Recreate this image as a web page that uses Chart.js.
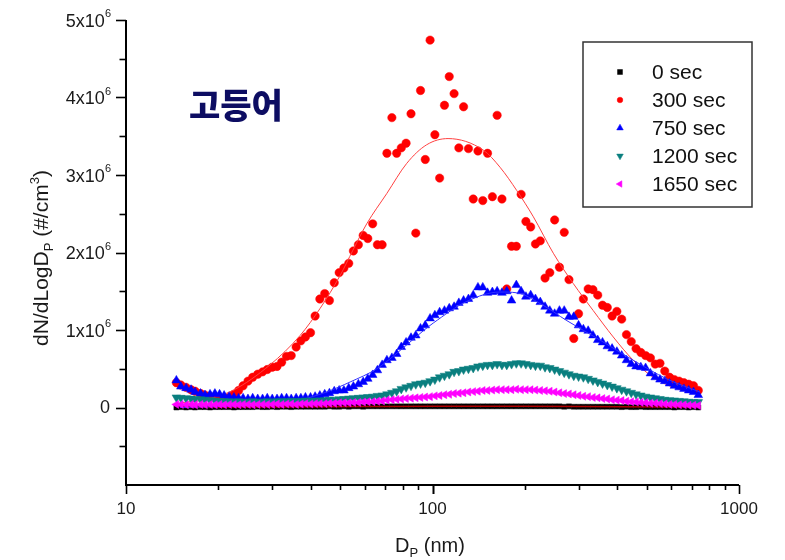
<!DOCTYPE html>
<html>
<head>
<meta charset="utf-8">
<script src="https://cdn.jsdelivr.net/npm/chart.js@4.4.1/dist/chart.umd.min.js"></script>
<style>
  html, body { margin: 0; padding: 0; background: #fff; }
  #wrap { width: 785px; height: 560px; position: relative; }
</style>
</head>
<body>
<div id="wrap"><canvas id="chart-psd"></canvas></div>
<script>
// DATA //
// particle diameter (nm), SMPS channel midpoints
const sizes = [
  14.6, 15.1, 15.7, 16.3, 16.8, 17.5, 18.1, 18.8, 19.5, 20.2,
  20.9, 21.7, 22.5, 23.3, 24.1, 25.0, 25.9, 26.9, 27.9, 28.9,
  30.0, 31.1, 32.2, 33.4, 34.6, 35.9, 37.2, 38.5, 40.0, 41.4,
  42.9, 44.5, 46.1, 47.8, 49.6, 51.4, 53.3, 55.2, 57.3, 59.4,
  61.5, 63.8, 66.1, 68.5, 71.0, 73.7, 76.4, 79.1, 82.0, 85.1,
  88.2, 91.4, 94.7, 98.2, 101.8, 105.5, 109.4, 113.4, 117.6, 121.9,
  126.3, 131.0, 135.8, 140.7, 145.9, 151.2, 156.8, 162.5, 168.5, 174.7,
  181.1, 187.7, 194.6, 201.7, 209.1, 216.7, 224.7, 232.9, 241.4, 250.3,
  259.5, 269.0, 278.8, 289.0, 299.6, 310.6, 322.0, 333.8, 346.0, 358.7,
  371.8, 385.4, 399.5, 414.2, 429.4, 445.1, 461.4, 478.3, 495.8, 514.0,
  532.8, 552.3, 572.5, 593.5, 615.3, 637.8, 661.2, 685.4, 710.5, 736.5
]

// dN/dLogDp, in 10^6 #/cm3
const sec0 = [
  0.0, 0.005, 0.0, 0.005, 0.0, 0.005, 0.005, 0.0, 0.005, 0.005,
  0.005, 0.005, 0.0, 0.005, 0.005, 0.005, 0.005, 0.01, 0.005, 0.005,
  0.01, 0.005, 0.01, 0.01, 0.005, 0.01, 0.01, 0.01, 0.01, 0.01,
  0.01, 0.01, 0.015, 0.01, 0.01, 0.015, 0.01, 0.015, 0.015, 0.01,
  0.015, 0.015, 0.015, 0.015, 0.015, 0.015, 0.015, 0.015, 0.015, 0.015,
  0.015, 0.015, 0.015, 0.015, 0.015, 0.015, 0.015, 0.015, 0.015, 0.015,
  0.015, 0.015, 0.015, 0.015, 0.015, 0.015, 0.015, 0.015, 0.015, 0.015,
  0.015, 0.015, 0.015, 0.015, 0.015, 0.015, 0.015, 0.015, 0.015, 0.015,
  0.015, 0.01, 0.015, 0.01, 0.01, 0.01, 0.01, 0.01, 0.01, 0.01,
  0.01, 0.01, 0.01, 0.005, 0.01, 0.005, 0.005, 0.01, 0.005, 0.005,
  0.005, 0.005, 0.005, 0.005, 0.0, 0.005, 0.005, 0.0, 0.005, 0.0
]
const sec300 = [
  0.32, 0.29, 0.26, 0.23, 0.21, 0.18, 0.16, 0.14, 0.13, 0.12,
  0.12, 0.13, 0.17, 0.22, 0.28, 0.34, 0.39, 0.43, 0.46, 0.49,
  0.52, 0.53, 0.585, 0.66, 0.67, 0.78, 0.86, 0.91, 0.965, 1.18,
  1.40, 1.47, 1.38, 1.61, 1.74, 1.80, 1.86, 2.02, 2.10, 2.22,
  2.18, 2.37, 2.10, 2.10, 3.28, 3.74, 3.28, 3.35, 3.41, 3.79,
  2.25, 4.09, 3.20, 4.74, 3.52, 2.96, 3.90, 4.27, 4.05, 3.35,
  3.88, 3.34, 2.69, 3.31, 2.67, 3.28, 2.72, 3.77, 2.69, 1.53,
  2.08, 2.08, 2.75, 2.40, 2.33, 2.11, 2.15, 1.67, 1.74, 2.42,
  1.81, 2.26, 1.65, 0.89, 1.21, 1.40, 1.53, 1.52, 1.45, 1.32,
  1.29, 1.18, 1.24, 1.14, 0.94, 0.85, 0.76, 0.71, 0.67, 0.64,
  0.56, 0.57, 0.47, 0.39, 0.36, 0.34, 0.32, 0.30, 0.28, 0.22
]
const sec750 = [
  0.35, 0.27, 0.25, 0.23, 0.20, 0.18, 0.16, 0.17, 0.18, 0.17,
  0.155, 0.14, 0.13, 0.12, 0.12, 0.11, 0.12, 0.11, 0.11, 0.12,
  0.11, 0.11, 0.12, 0.12, 0.11, 0.12, 0.12, 0.13, 0.13, 0.14,
  0.155, 0.17, 0.185, 0.21, 0.22, 0.22, 0.25, 0.27, 0.30, 0.33,
  0.37, 0.42, 0.48, 0.55, 0.61, 0.64, 0.69, 0.78, 0.84, 0.90,
  0.93, 1.02, 1.06, 1.15, 1.19, 1.23, 1.25, 1.28, 1.30, 1.35,
  1.38, 1.40, 1.45, 1.55, 1.55, 1.48, 1.49, 1.50, 1.48, 1.50,
  1.38, 1.58, 1.50, 1.43, 1.45, 1.40, 1.36, 1.30, 1.25, 1.21,
  1.25, 1.25, 1.17, 1.17, 1.06, 1.01, 0.99, 0.93, 0.87, 0.84,
  0.79, 0.76, 0.72, 0.67, 0.61, 0.56, 0.53, 0.52, 0.51, 0.44,
  0.39, 0.36, 0.34, 0.31, 0.28, 0.26, 0.24, 0.22, 0.20, 0.16
]
const sec1200 = [
  0.13, 0.125, 0.12, 0.115, 0.11, 0.105, 0.10, 0.095, 0.09, 0.085,
  0.08, 0.08, 0.075, 0.08, 0.075, 0.075, 0.08, 0.075, 0.075, 0.08,
  0.075, 0.08, 0.08, 0.08, 0.085, 0.08, 0.085, 0.09, 0.085, 0.09,
  0.09, 0.095, 0.10, 0.10, 0.105, 0.11, 0.115, 0.12, 0.125, 0.13,
  0.135, 0.14, 0.15, 0.155, 0.17, 0.19, 0.21, 0.24, 0.26, 0.28,
  0.30, 0.31, 0.32, 0.34, 0.36, 0.39, 0.41, 0.43, 0.46, 0.47,
  0.49, 0.50, 0.51, 0.53, 0.54, 0.55, 0.55, 0.56, 0.55, 0.55,
  0.56, 0.57, 0.57, 0.56, 0.55, 0.54, 0.54, 0.52, 0.51, 0.49,
  0.47, 0.45, 0.43, 0.41, 0.40, 0.39, 0.37, 0.35, 0.33, 0.31,
  0.29, 0.27, 0.25, 0.23, 0.21, 0.19, 0.17, 0.155, 0.14, 0.13,
  0.12, 0.11, 0.10, 0.095, 0.09, 0.085, 0.08, 0.075, 0.07, 0.07
]
const sec1650 = [
  0.04, 0.04, 0.035, 0.04, 0.035, 0.04, 0.035, 0.04, 0.035, 0.04,
  0.035, 0.04, 0.04, 0.035, 0.04, 0.04, 0.035, 0.04, 0.04, 0.04,
  0.04, 0.045, 0.04, 0.045, 0.045, 0.04, 0.045, 0.05, 0.045, 0.05,
  0.05, 0.05, 0.055, 0.055, 0.06, 0.06, 0.06, 0.065, 0.065, 0.07,
  0.075, 0.075, 0.08, 0.085, 0.095, 0.10, 0.105, 0.11, 0.115, 0.12,
  0.125, 0.13, 0.135, 0.14, 0.15, 0.155, 0.165, 0.17, 0.18, 0.185,
  0.19, 0.20, 0.205, 0.21, 0.22, 0.22, 0.225, 0.23, 0.23, 0.23,
  0.23, 0.235, 0.23, 0.23, 0.23, 0.225, 0.22, 0.215, 0.21, 0.20,
  0.19, 0.18, 0.175, 0.165, 0.155, 0.145, 0.14, 0.13, 0.125, 0.115,
  0.11, 0.10, 0.095, 0.09, 0.08, 0.075, 0.07, 0.065, 0.06, 0.055,
  0.055, 0.05, 0.045, 0.04, 0.04, 0.035, 0.035, 0.03, 0.03, 0.025
]

// fitted curves
const fitSizes0 = [15, 30, 60, 100, 200, 400, 750]
const fit0 = [0.005, 0.008, 0.012, 0.015, 0.015, 0.01, 0.006]
const fitSizes300 = [15.0, 18.0, 22.3, 29.5, 37.0, 43.0, 49.9, 55.0, 61.0, 70.9, 82.4, 95.7, 112.4,
  146.6, 166.1, 188.3, 213.4, 247.9, 287.9, 334.6, 388.8, 451.7, 524.8, 610.3, 746]
const fit300 = [0.06, 0.10, 0.22, 0.55, 0.93, 1.28, 1.70, 2.03, 2.37, 2.76, 3.15, 3.39, 3.47,
  3.32, 3.10, 2.80, 2.46, 1.99, 1.60, 1.25, 0.91, 0.61, 0.39, 0.26, 0.17]
const fitSizes750 = [15.0, 25.4, 37.0, 45.1, 53.9, 65.8, 76.5, 93.3, 100.6, 129.5, 166.1, 188.3,
  224.8, 274.6, 352, 451.7, 581, 746]
const fit750 = [0.0, 0.03, 0.10, 0.20, 0.33, 0.50, 0.70, 0.99, 1.09, 1.37, 1.49, 1.48,
  1.34, 1.12, 0.87, 0.61, 0.37, 0.20]

// tick labels
const xTickLabels = [10, 100, 1000]
const yTickLabels = [0, 1, 2, 3, 4, 5]

const seriesNames = ['0 sec', '300 sec', '750 sec', '1200 sec', '1650 sec']

// ESTILO //
const FONT = '"Liberation Sans", Arial, Helvetica, sans-serif'
Chart.defaults.font.family = FONT

const toPoints = (xs, ys) => xs.map((x, i) => ({ x: x, y: ys[i] * 1e6 }))

const markerSets = [
  { color: '#000000', style: 'rect', radius: 3.5, rotation: 0, legendRadius: 3.5 },
  { color: '#ff0000', style: 'circle', radius: 4.2, rotation: 0, legendRadius: 2.8 },
  { color: '#0000ff', style: 'triangle', radius: 5, rotation: 0, legendRadius: 3.8 },
  { color: '#0a7f7f', style: 'triangle', radius: 5, rotation: 180, legendRadius: 3.8 },
  { color: '#ff00ff', style: 'triangle', radius: 4.6, rotation: 270, legendRadius: 3.8 }
]

function scatterSet(i, values, order) {
  const m = markerSets[i]
  return {
    type: 'scatter',
    label: seriesNames[i],
    data: toPoints(sizes, values),
    showLine: false,
    pointStyle: m.style,
    pointRotation: m.rotation,
    pointRadius: m.radius,
    pointBackgroundColor: m.color,
    pointBorderColor: m.color,
    pointBorderWidth: 0.5,
    order: order
  }
}

function fitSet(xs, ys, color, width, order) {
  return {
    type: 'line',
    label: 'fit',
    data: toPoints(xs, ys),
    borderColor: color,
    borderWidth: width,
    pointRadius: 0,
    fill: false,
    cubicInterpolationMode: 'monotone',
    order: order
  }
}

// EIXOS, LEGENDA E TEXTOS //
function drawScript(ctx, base, small, x, y, size, shift, align) {
  ctx.font = size + 'px ' + FONT
  const wb = ctx.measureText(base).width
  const smallSize = Math.round(size * 0.62)
  ctx.font = smallSize + 'px ' + FONT
  const ws = ctx.measureText(small).width
  const x0 = align === 'right' ? x - wb - ws : x
  ctx.textAlign = 'left'
  ctx.font = size + 'px ' + FONT
  ctx.fillText(base, x0, y)
  ctx.font = smallSize + 'px ' + FONT
  ctx.fillText(small, x0 + wb, y + shift)
}

const decorPlugin = {
  id: 'decor',
  afterDraw(chart) {
    const ctx = chart.ctx
    const area = chart.chartArea
    const xs = chart.scales.x
    const ys = chart.scales.y
    ctx.save()
    ctx.strokeStyle = '#000'
    ctx.fillStyle = '#1a1a1a'

    // axis lines
    ctx.lineWidth = 2
    ctx.beginPath()
    ctx.moveTo(area.left, area.top)
    ctx.lineTo(area.left, area.bottom)
    ctx.lineTo(area.right, area.bottom)
    ctx.stroke()

    // y ticks
    ctx.lineWidth = 1.6
    for (let v = -0.5; v <= 5; v += 0.5) {
      const py = Math.round(ys.getPixelForValue(v * 1e6)) + 0.5
      const len = Number.isInteger(v) ? 10 : 6.5
      ctx.beginPath()
      ctx.moveTo(area.left, py)
      ctx.lineTo(area.left - len, py)
      ctx.stroke()
    }
    ctx.textBaseline = 'middle'
    yTickLabels.forEach(v => {
      const py = ys.getPixelForValue(v * 1e6)
      if (v === 0) {
        ctx.font = '18px ' + FONT
        ctx.textAlign = 'right'
        ctx.fillText('0', 110, py + 1)
      } else {
        drawScript(ctx, v + 'x10', '6', 111, py + 2, 18, -8, 'right')
      }
    })

    // x ticks
    for (let d = 10; d < 1000; d *= 10) {
      for (let k = 1; k <= 10; k++) {
        const val = d * k
        if (val > 1000) continue
        const px = Math.round(xs.getPixelForValue(val)) + 0.5
        const len = (k === 1 || k === 10) ? 9 : 5
        ctx.beginPath()
        ctx.moveTo(px, area.bottom)
        ctx.lineTo(px, area.bottom + len)
        ctx.stroke()
      }
    }
    ctx.font = '17px ' + FONT
    ctx.textAlign = 'center'
    xTickLabels.forEach(v => {
      ctx.fillText(String(v), xs.getPixelForValue(v), 509)
    })

    // x title: D_P (nm)
    ctx.textBaseline = 'alphabetic'
    ctx.font = '20px ' + FONT
    const wD = ctx.measureText('D').width
    const wRest = ctx.measureText(' (nm)').width
    ctx.font = '13px ' + FONT
    const wP = ctx.measureText('P').width
    let tx = 430 - (wD + wP + wRest) / 2
    ctx.textAlign = 'left'
    ctx.font = '20px ' + FONT
    ctx.fillText('D', tx, 552)
    ctx.font = '13px ' + FONT
    ctx.fillText('P', tx + wD, 557)
    ctx.font = '20px ' + FONT
    ctx.fillText(' (nm)', tx + wD + wP, 552)

    // y title: dN/dLogD_P (#/cm3)
    ctx.save()
    ctx.translate(48, 258)
    ctx.rotate(-Math.PI / 2)
    const parts = [
      { t: 'dN/dLogD', s: 21, dy: 0 },
      { t: 'P', s: 13, dy: 5 },
      { t: ' (#/cm', s: 21, dy: 0 },
      { t: '3', s: 13, dy: -9 },
      { t: ')', s: 21, dy: 0 }
    ]
    let total = 0
    parts.forEach(p => { ctx.font = p.s + 'px ' + FONT; p.w = ctx.measureText(p.t).width; total += p.w })
    let cx = -total / 2
    parts.forEach(p => {
      ctx.font = p.s + 'px ' + FONT
      ctx.fillText(p.t, cx, p.dy)
      cx += p.w
    })
    ctx.restore()

    // korean label
    ctx.fillStyle = '#0d0d62'
    ctx.font = '900 34px "Noto Sans CJK KR", sans-serif'
    ctx.textBaseline = 'middle'
    ctx.fillText('고등어', 189, 105)

    // legend
    ctx.strokeStyle = '#333'
    ctx.lineWidth = 1.5
    ctx.strokeRect(583, 42, 169, 165)
    ctx.textBaseline = 'middle'
    ctx.font = '21px ' + FONT
    seriesNames.forEach((name, i) => {
      const m = markerSets[i]
      const ly = 72 + i * 28
      ctx.fillStyle = m.color
      ctx.strokeStyle = m.color
      ctx.lineWidth = 0.5
      Chart.helpers.drawPoint(ctx, { pointStyle: m.style, rotation: m.rotation, radius: m.legendRadius, borderWidth: 0.5 }, 620, ly)
      ctx.fillStyle = '#111'
      ctx.fillText(name, 652, ly + 1)
    })
    ctx.restore()
  }
}

// GRÁFICO //
const chartCanvas = document.getElementById('chart-psd').getContext('2d')

new Chart(chartCanvas, {
  type: 'scatter',
  data: {
    datasets: [
      scatterSet(0, sec0, 9),
      fitSet(fitSizes0, fit0, '#b00000', 1.5, 8),
      scatterSet(1, sec300, 7),
      fitSet(fitSizes300, fit300, '#ff4040', 1, 6),
      scatterSet(2, sec750, 5),
      fitSet(fitSizes750, fit750, '#3030ff', 1, 4),
      scatterSet(3, sec1200, 3),
      scatterSet(4, sec1650, 2)
    ]
  },
  options: {
    responsive: true,
    maintainAspectRatio: false,
    animation: false,
    layout: { padding: { left: 126, right: 46, top: 20, bottom: 75 } },
    scales: {
      x: { type: 'logarithmic', min: 10, max: 1000, display: false },
      y: { type: 'linear', min: -1e6, max: 5e6, display: false }
    },
    plugins: {
      legend: { display: false },
      tooltip: { enabled: false }
    }
  },
  plugins: [decorPlugin]
})
</script>
</body>
</html>
